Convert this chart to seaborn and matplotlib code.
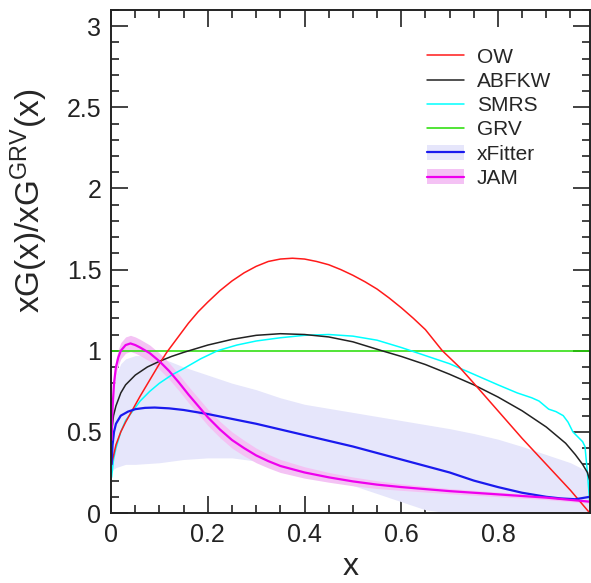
import numpy as np
import pandas as pd
import matplotlib
matplotlib.use("Agg")
import matplotlib.pyplot as plt
import seaborn as sns
from matplotlib.patches import Patch
from matplotlib.lines import Line2D
from matplotlib.ticker import MultipleLocator, FormatStrFormatter

# --- data ---
ow_x = [0.001, 0.01, 0.02, 0.03, 0.045, 0.06, 0.08, 0.1, 0.115, 0.14, 0.16, 0.18, 0.2, 0.225,
        0.25, 0.275, 0.3, 0.325, 0.35, 0.375, 0.4, 0.425, 0.45, 0.475, 0.5, 0.525, 0.55, 0.575,
        0.6, 0.625, 0.65, 0.685, 0.72, 0.75, 0.8, 0.85, 0.9, 0.95, 0.99]
ow_y = [0.3, 0.42, 0.5, 0.56, 0.64, 0.72, 0.82, 0.92, 0.99, 1.09, 1.17, 1.24, 1.3, 1.37,
        1.43, 1.48, 1.52, 1.55, 1.565, 1.57, 1.565, 1.55, 1.53, 1.5, 1.465, 1.425, 1.38, 1.325,
        1.265, 1.2, 1.13, 1.0, 0.9, 0.8, 0.63, 0.46, 0.3, 0.14, 0.0]

abfkw_x = [0.001, 0.005, 0.01, 0.02, 0.03, 0.05, 0.075, 0.1, 0.125, 0.15, 0.2, 0.25, 0.3, 0.35,
           0.4, 0.45, 0.5, 0.56, 0.6, 0.65, 0.7, 0.75, 0.8, 0.85, 0.9, 0.94, 0.96, 0.975, 0.985, 0.99]
abfkw_y = [0.5, 0.6, 0.66, 0.74, 0.79, 0.85, 0.9, 0.935, 0.965, 0.99, 1.035, 1.07, 1.095, 1.105,
           1.1, 1.085, 1.055, 1.0, 0.965, 0.915, 0.855, 0.79, 0.715, 0.63, 0.53, 0.43, 0.36, 0.3, 0.25, 0.2]

smrs_x = [0.001, 0.005, 0.01, 0.02, 0.03, 0.045, 0.06, 0.08, 0.1, 0.125, 0.15, 0.185, 0.22, 0.26,
          0.3, 0.35, 0.4, 0.45, 0.5, 0.55, 0.6, 0.62, 0.66, 0.7, 0.75, 0.8, 0.84, 0.87, 0.885,
          0.895, 0.905, 0.92, 0.935, 0.945, 0.955, 0.965, 0.975, 0.98, 0.985, 0.99]
smrs_y = [0.22, 0.33, 0.4, 0.5, 0.57, 0.63, 0.69, 0.75, 0.8, 0.85, 0.89, 0.95, 1.0, 1.035,
          1.06, 1.08, 1.095, 1.1, 1.09, 1.065, 1.02, 1.0, 0.96, 0.92, 0.855, 0.79, 0.74, 0.71, 0.69,
          0.665, 0.64, 0.625, 0.6, 0.56, 0.5, 0.47, 0.44, 0.41, 0.25, 0.06]

grv_x = [0.0, 0.99]
grv_y = [1.0, 1.0]

xf_x = [0.001, 0.003, 0.006, 0.01, 0.02, 0.035, 0.05, 0.07, 0.09, 0.12, 0.15, 0.2, 0.25, 0.3,
        0.35, 0.4, 0.45, 0.5, 0.55, 0.6, 0.65, 0.7, 0.75, 0.8, 0.85, 0.9, 0.93, 0.96, 0.99]
xf_y = [0.3, 0.42, 0.5, 0.55, 0.6, 0.625, 0.64, 0.648, 0.65, 0.645, 0.635, 0.61, 0.58, 0.55,
        0.515, 0.48, 0.445, 0.41, 0.37, 0.33, 0.29, 0.25, 0.2, 0.16, 0.125, 0.1, 0.09, 0.085, 0.1]
xf_band_x = [0.001, 0.005, 0.01, 0.02, 0.03, 0.05, 0.075, 0.1, 0.15, 0.2, 0.25, 0.3, 0.35, 0.4,
             0.45, 0.5, 0.55, 0.6, 0.65, 0.7, 0.75, 0.8, 0.85, 0.9, 0.95, 0.99]
xf_band_hi = [0.55, 0.75, 0.85, 0.92, 0.95, 0.97, 0.97, 0.96, 0.9, 0.85, 0.8, 0.76, 0.71, 0.67,
              0.645, 0.62, 0.595, 0.57, 0.545, 0.52, 0.49, 0.455, 0.41, 0.36, 0.31, 0.25]
xf_band_lo = [0.25, 0.27, 0.28, 0.29, 0.3, 0.3, 0.305, 0.31, 0.33, 0.34, 0.34, 0.32, 0.29, 0.25,
              0.21, 0.17, 0.12, 0.07, 0.02, 0.0, 0.0, 0.0, 0.0, 0.0, 0.0, 0.0]

jam_x = [0.001, 0.003, 0.006, 0.01, 0.015, 0.02, 0.03, 0.04, 0.05, 0.06, 0.08, 0.1, 0.12, 0.14,
         0.16, 0.18, 0.2, 0.225, 0.25, 0.275, 0.3, 0.325, 0.35, 0.4, 0.45, 0.5, 0.55, 0.6, 0.7,
         0.8, 0.9, 0.99]
jam_y = [0.45, 0.65, 0.8, 0.9, 0.96, 1.0, 1.035, 1.045, 1.035, 1.02, 0.985, 0.935, 0.875, 0.805,
         0.73, 0.66, 0.59, 0.515, 0.45, 0.4, 0.355, 0.32, 0.29, 0.25, 0.22, 0.195, 0.175, 0.16, 0.135,
         0.115, 0.095, 0.07]
jam_err = [0.03, 0.04, 0.045, 0.05, 0.05, 0.05, 0.05, 0.05, 0.05, 0.05, 0.05, 0.05, 0.05, 0.05,
           0.05, 0.05, 0.05, 0.05, 0.05, 0.048, 0.045, 0.042, 0.04, 0.035, 0.03, 0.027, 0.024, 0.02,
           0.016, 0.014, 0.012, 0.01]

sns.set_theme(style="ticks")
plt.rcParams["font.family"] = ["Liberation Sans", "DejaVu Sans"]
plt.rcParams["mathtext.default"] = "regular"

fig = plt.figure(figsize=(5.91, 5.83), dpi=100)
ax = fig.add_axes([0.188, 0.12, 0.81, 0.863])

# bands
ax.fill_between(xf_band_x, xf_band_lo, xf_band_hi, color="#e6e6fb", lw=0)
jam_lo = np.array(jam_y) - np.array(jam_err)
jam_hi = np.array(jam_y) + np.array(jam_err)
ax.fill_between(jam_x, jam_lo, jam_hi, color="#f4c2f4", lw=0)

# curves
sns.lineplot(x=grv_x, y=grv_y, color="#22dd00", lw=1.1, ax=ax)
sns.lineplot(x=smrs_x, y=smrs_y, color="cyan", lw=1.1, ax=ax, sort=False)
sns.lineplot(x=abfkw_x, y=abfkw_y, color="#222222", lw=1.1, ax=ax, sort=False)
sns.lineplot(x=ow_x, y=ow_y, color="#ff1a1a", lw=1.1, ax=ax, sort=False)
sns.lineplot(x=xf_x, y=xf_y, color="#1a1aee", lw=1.6, ax=ax, sort=False)
sns.lineplot(x=jam_x, y=jam_y, color="#ee00ee", lw=1.6, ax=ax, sort=False)

ax.set_xlim(0, 0.99)
ax.set_ylim(0, 3.1)
ax.xaxis.set_major_locator(MultipleLocator(0.2))
ax.xaxis.set_minor_locator(MultipleLocator(0.05))
ax.yaxis.set_major_locator(MultipleLocator(0.5))
ax.yaxis.set_minor_locator(MultipleLocator(0.1))
ax.xaxis.set_major_formatter(FormatStrFormatter("%g"))
ax.yaxis.set_major_formatter(FormatStrFormatter("%g"))
ax.tick_params(which="both", direction="in", top=True, right=True, width=1.2,
               labelsize=18, colors="#222222", pad=7)
ax.tick_params(which="major", length=12)
ax.tick_params(which="minor", length=6)
for s in ax.spines.values():
    s.set_linewidth(1.4)
    s.set_color("#222222")

ax.set_xlabel("x", fontsize=23, labelpad=4)
ax.set_ylabel("xG(x)/xG$^{GRV}$(x)", fontsize=24)
ax.yaxis.set_label_coords(-0.128, 0.62)

handles = [
    Line2D([], [], color="#ff1a1a", lw=1.1),
    Line2D([], [], color="#222222", lw=1.1),
    Line2D([], [], color="cyan", lw=1.1),
    Line2D([], [], color="#22dd00", lw=1.1),
    (Patch(color="#e6e6fb", lw=0), Line2D([], [], color="#1a1aee", lw=1.6)),
    (Patch(color="#f4c2f4", lw=0), Line2D([], [], color="#ee00ee", lw=1.6)),
]
labels = ["OW", "ABFKW", "SMRS", "GRV", "xFitter", "JAM"]
ax.legend(handles, labels, loc="upper left", bbox_to_anchor=(0.62, 0.962), frameon=False,
          fontsize=15, handlelength=1.8, handletextpad=0.6, labelspacing=0.25)

fig.savefig("out.png", dpi=100)
